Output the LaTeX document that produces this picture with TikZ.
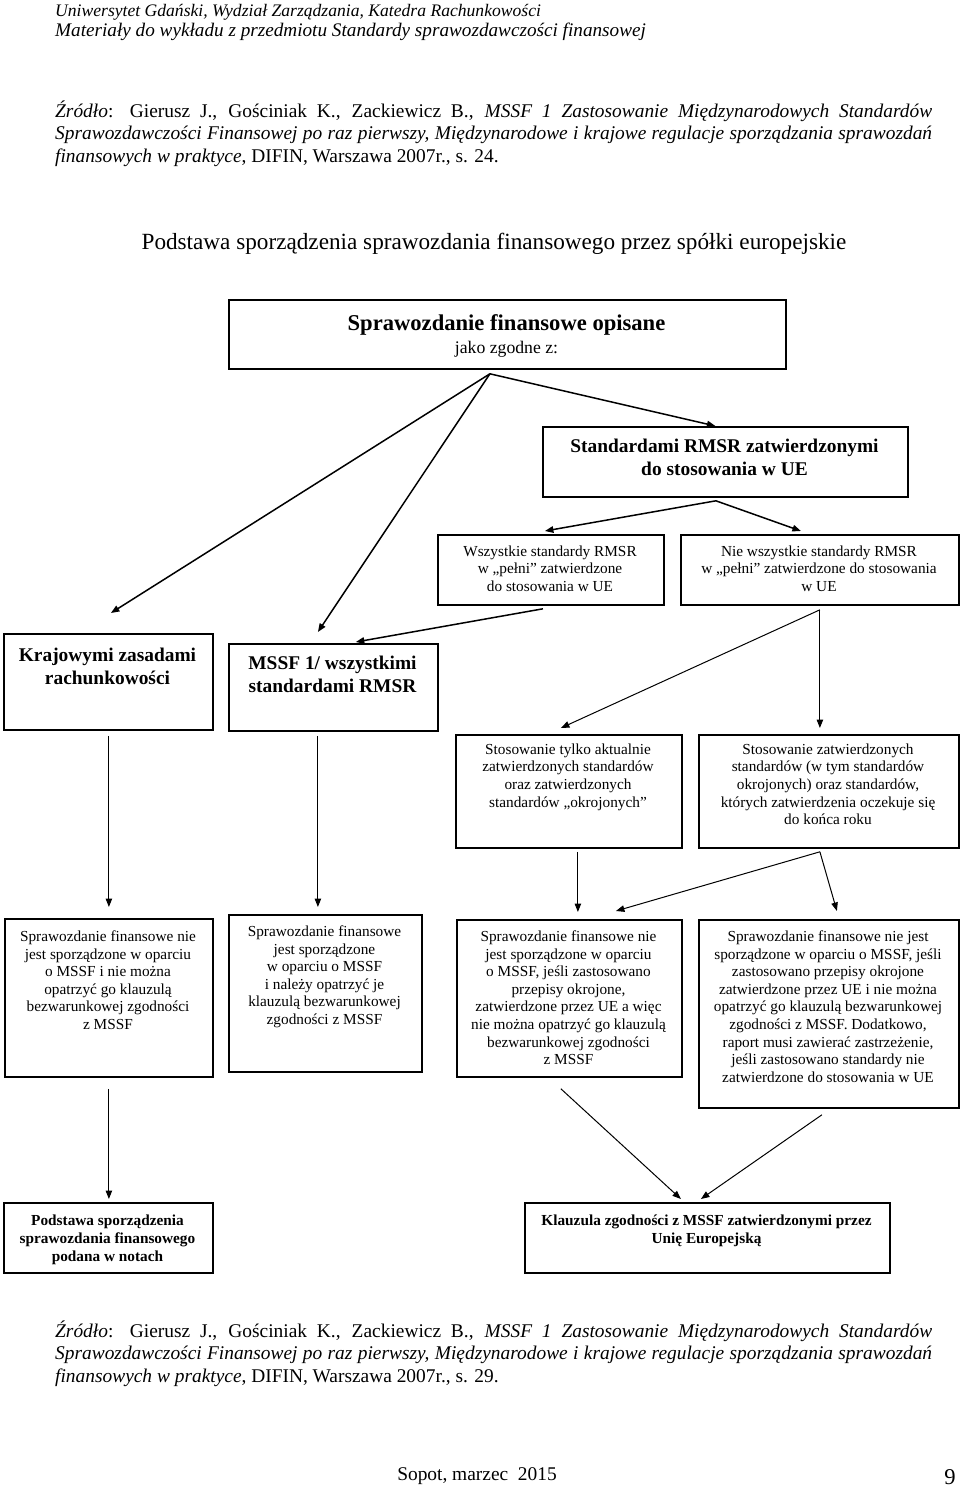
\documentclass[tikz,border=0pt]{standalone}
\usepackage{fontspec}
\setmainfont{Liberation Serif}
\usetikzlibrary{arrows.meta,calc}
\tikzset{
  box/.style={draw=black, line width=1.8pt, inner sep=0pt, anchor=north west},
  txt/.style={inner sep=0pt, anchor=north, align=center},
  small/.style={font=\fontsize{15.3}{17.6}\selectfont},
  smallb/.style={font=\fontsize{15.3}{18}\selectfont\bfseries},
  midb/.style={font=\fontsize{19.4}{23.3}\selectfont\bfseries},
  para/.style={inner sep=0pt, anchor=base west, font=\fontsize{19.4}{22.3}\selectfont},
  arr/.style={-{Triangle[length=8.5pt,width=6.5pt]}, line width=1pt},
  arrt/.style={arr, line width=1.5pt},
}
\begin{document}
\begin{tikzpicture}[x=1pt,y=-1pt]
\useasboundingbox[fill=white] (0,0) rectangle (960,1486);

% header
\node[inner sep=0pt, anchor=base west, font=\fontsize{17.6}{20}\selectfont\itshape] (h1) at (55,16) {Uniwersytet Gdański, Wydział Zarządzania, Katedra Rachunkowości};
\node[inner sep=0pt, anchor=base west, font=\fontsize{19.2}{22}\selectfont\itshape] (h2) at (55,36.5) {Materiały do wykładu z przedmiotu Standardy sprawozdawczości finansowej};

% source 1
\node[para] (za) at (55,117.4) {\makebox[877pt][s]{\textit{Źródło}: Gierusz J., Gościniak K., Zackiewicz B., \textit{MSSF 1 Zastosowanie Międzynarodowych Standardów}}};
\node[para] (zb) at (55,139.7) {\makebox[877pt][s]{\textit{Sprawozdawczości Finansowej po raz pierwszy, Międzynarodowe i krajowe regulacje sporządzania sprawozdań}}};
\node[para] (zc) at (55,162) {\textit{finansowych w praktyce}, DIFIN, Warszawa 2007r., s. 24.};

% title
\node[inner sep=0pt, anchor=base, font=\fontsize{23.2}{26}\selectfont] (title) at (494,249.5) {Podstawa sporządzenia sprawozdania finansowego przez spółki europejskie};

% boxes
\node[box, minimum width=557pt, minimum height=69pt] (T) at (228,299) {};
\node[box, minimum width=365pt, minimum height=70pt] (S) at (542,426) {};
\node[box, minimum width=226pt, minimum height=70pt] (W) at (437,534) {};
\node[box, minimum width=278pt, minimum height=70pt] (N) at (680,534) {};
\node[box, minimum width=209pt, minimum height=96pt] (K) at (3,633) {};
\node[box, minimum width=209pt, minimum height=87pt] (M) at (228,643) {};
\node[box, minimum width=226pt, minimum height=113pt] (ST) at (455,734) {};
\node[box, minimum width=260pt, minimum height=113pt] (SZ) at (698,734) {};
\node[box, minimum width=208pt, minimum height=158pt] (B1) at (4,918) {};
\node[box, minimum width=193pt, minimum height=157pt] (B2) at (228,914) {};
\node[box, minimum width=225pt, minimum height=157pt] (B3) at (456,919) {};
\node[box, minimum width=260pt, minimum height=188pt] (B4) at (698,919) {};
\node[box, minimum width=209pt, minimum height=70pt] (P) at (3,1202) {};
\node[box, minimum width=365pt, minimum height=70pt] (KL) at (524,1202) {};

% box texts
\node[inner sep=0pt, anchor=base, font=\fontsize{22.6}{26}\selectfont\bfseries] (tA) at (506.5,330.5) {Sprawozdanie finansowe opisane};
\node[inner sep=0pt, anchor=base, font=\fontsize{17.7}{20}\selectfont] (tB) at (506.5,353) {jako zgodne z:};
\node[txt, midb] (sT) at (724.5,439) {Standardami RMSR zatwierdzonymi\\do stosowania w UE};
\node[txt, small] (wT) at (550,545.5) {Wszystkie standardy RMSR\\w „pełni” zatwierdzone\\do stosowania w UE};
\node[txt, small] (nT) at (819,545.5) {Nie wszystkie standardy RMSR\\w „pełni” zatwierdzone do stosowania\\w UE};
\node[txt, midb] (kT) at (107.5,648) {Krajowymi zasadami\\rachunkowości};
\node[txt, midb] (mT) at (332.5,656) {MSSF 1/ wszystkimi\\standardami RMSR};
\node[txt, small] (stT) at (568,743.5) {Stosowanie tylko aktualnie\\zatwierdzonych standardów\\oraz zatwierdzonych\\standardów „okrojonych”};
\node[txt, small] (szT) at (828,743.5) {Stosowanie zatwierdzonych\\standardów (w tym standardów\\okrojonych) oraz standardów,\\których zatwierdzenia oczekuje się\\do końca roku};
\node[txt, small] (b1T) at (108,930.5) {Sprawozdanie finansowe nie\\jest sporządzone w oparciu\\o MSSF i nie można\\opatrzyć go klauzulą\\bezwarunkowej zgodności\\z MSSF};
\node[txt, small] (b2T) at (324.5,925.5) {Sprawozdanie finansowe\\jest sporządzone\\w oparciu o MSSF\\i należy opatrzyć je\\klauzulą bezwarunkowej\\zgodności z MSSF};
\node[txt, small] (b3T) at (568.5,930.5) {Sprawozdanie finansowe nie\\jest sporządzone w oparciu\\o MSSF, jeśli zastosowano\\przepisy okrojone,\\zatwierdzone przez UE a więc\\nie można opatrzyć go klauzulą\\bezwarunkowej zgodności\\z MSSF};
\node[txt, small] (b4T) at (828,930.5) {Sprawozdanie finansowe nie jest\\sporządzone w oparciu o MSSF, jeśli\\zastosowano przepisy okrojone\\zatwierdzone przez UE i nie można\\opatrzyć go klauzulą bezwarunkowej\\zgodności z MSSF. Dodatkowo,\\raport musi zawierać zastrzeżenie,\\jeśli zastosowano standardy nie\\zatwierdzone do stosowania w UE};
\node[txt, smallb] (pT) at (107.5,1214.5) {Podstawa sporządzenia\\sprawozdania finansowego\\podana w notach};
\node[txt, smallb] (klT) at (706.5,1214.5) {Klauzula zgodności z MSSF zatwierdzonymi przez\\Unię Europejską};

% connectors
\draw[arrt] ($(T.south)+(-17.5,4)$) -- ($(S.north)+(-10,0)$);
\draw[arrt] ($(T.south)+(-17.5,4)$) -- ($(K.north)+(2.5,-20)$);
\draw[arrt] ($(T.south)+(-17.5,4)$) -- ($(M.north)+(-15.5,-11)$);
\draw[arrt] ($(S.south)+(-9.5,3)$) -- ($(W.north)+(-6,-3)$);
\draw[arrt] ($(S.south)+(-9.5,3)$) -- ($(N.north)+(-19,-3)$);
\draw[arrt] ($(W.south)+(-8,3)$) -- ($(M.north east)+(-83,-1)$);
\draw[arr] ($(N.south)+(0,4)$) -- ($(ST.north)+(-8,-6)$);
\draw[arr] ($(N.south)+(0,4)$) -- ($(SZ.north)+(-9,-6)$);
\draw[arr] ($(K.south)+(0.5,5)$) -- ($(B1.north)+(0,-11)$);
\draw[arr] ($(M.south)+(-15.5,4)$) -- ($(B2.north)+(-7.5,-7)$);
\draw[arr] ($(ST.south)+(9,3)$) -- ($(B3.north)+(8.5,-7)$);
\draw[arr] ($(SZ.south)+(-9,3)$) -- ($(B3.north)+(46.5,-8)$);
\draw[arr] ($(SZ.south)+(-9,3)$) -- ($(B4.north)+(8,-8)$);
\draw[arr] ($(B1.south)+(0,11)$) -- ($(P.north)+(0.5,-3)$);
\draw[arr] ($(B3.south)+(-8.5,11)$) -- ($(KL.north)+(-26.5,-3)$);
\draw[arr] ($(B4.south)+(-7,6)$) -- ($(KL.north)+(-6.5,-3)$);

% source 2
\node[para] (fa) at (55,1337.4) {\makebox[877pt][s]{\textit{Źródło}: Gierusz J., Gościniak K., Zackiewicz B., \textit{MSSF 1 Zastosowanie Międzynarodowych Standardów}}};
\node[para] (fb) at (55,1359.7) {\makebox[877pt][s]{\textit{Sprawozdawczości Finansowej po raz pierwszy, Międzynarodowe i krajowe regulacje sporządzania sprawozdań}}};
\node[para] (fc) at (55,1382) {\textit{finansowych w praktyce}, DIFIN, Warszawa 2007r., s. 29.};

% footer
\node[inner sep=0pt, anchor=base, font=\fontsize{19.4}{22}\selectfont] (sopot) at (477,1480) {Sopot, marzec\ \ 2015};
\node[inner sep=0pt, anchor=base, font=\fontsize{22.6}{26}\selectfont] (pg) at (950,1484) {9};
\end{tikzpicture}
\end{document}
